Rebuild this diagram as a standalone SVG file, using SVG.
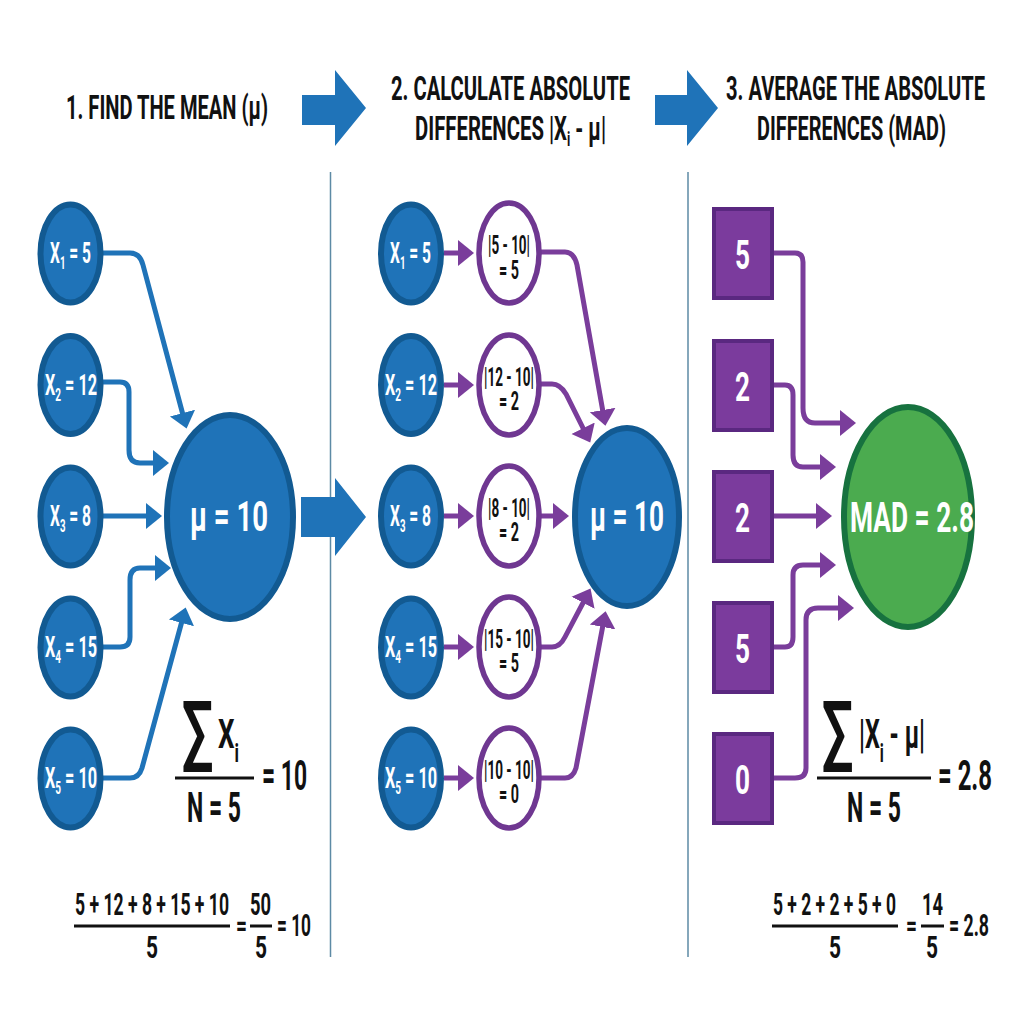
<svg xmlns="http://www.w3.org/2000/svg" width="1024" height="1024" viewBox="0 0 1024 1024">
<style>
text{font-family:Roboto,"Liberation Sans",sans-serif;font-weight:700;fill:#111;}
.w{fill:#fff;}
.blue{fill:#1f73b8;stroke:#125a92;stroke-width:6;}
.pc{fill:#fff;stroke:#6f3791;stroke-width:5.500;}
.sq{fill:#7b3b9d;stroke:#5a2880;stroke-width:4;}
.grn{fill:#4bab4f;stroke:#17723f;stroke-width:6;}
.bl{fill:none;stroke:#1f73b8;stroke-width:5;marker-end:url(#mb);}
.pl{fill:none;stroke:#7a3d9b;stroke-width:5;marker-end:url(#mp);}
.div{stroke:#5d8aa5;stroke-width:1.5;}
.rule{stroke:#111;stroke-width:3;}
.big{fill:#1f73b8;}
</style>
<defs>
<marker id="mb" markerUnits="userSpaceOnUse" markerWidth="18" markerHeight="30" refX="2" refY="15" orient="auto"><path d="M0 2L16 15L0 28Z" fill="#1f73b8"/></marker>
<marker id="mp" markerUnits="userSpaceOnUse" markerWidth="18" markerHeight="30" refX="2" refY="15" orient="auto"><path d="M0 2L16 15L0 28Z" fill="#7a3d9b"/></marker>
</defs>
<rect width="1024" height="1024" fill="#fff"/>
<g id="dividers">
<line class="div" x1="330.5" y1="172" x2="330.5" y2="957"/>
<line class="div" x1="688" y1="172" x2="688" y2="957"/>
</g>
<g id="headers">
<text x="66" y="119" font-size="33" textLength="202" lengthAdjust="spacingAndGlyphs">1. FIND THE MEAN (μ)</text>
<text x="391" y="100" font-size="33" textLength="239" lengthAdjust="spacingAndGlyphs">2. CALCULATE ABSOLUTE</text>
<text x="415" y="140" font-size="33" textLength="191" lengthAdjust="spacingAndGlyphs">DIFFERENCES |X<tspan font-size="20" dy="6">i</tspan><tspan dy="-6"> - μ|</tspan></text>
<text x="726" y="100" font-size="33" textLength="259" lengthAdjust="spacingAndGlyphs">3. AVERAGE THE ABSOLUTE</text>
<text x="757" y="140" font-size="33" textLength="189" lengthAdjust="spacingAndGlyphs">DIFFERENCES (MAD)</text>
</g>
<g id="block-arrows">
<path class="big" d="M302 95H335V70L366 108L335 146V125H302Z"/>
<path class="big" d="M655 95H687V70L718 108L687 146V125H655Z"/>
<path class="big" d="M301 497H335V478L366 517L335 556V537H301Z"/>
</g>
<g id="connectors">
<path class="bl" d="M103 253H130Q140 253 143 265L183 415"/>
<path class="bl" d="M103 382H120Q129 382 129 392V450Q129 463 140 463H155"/>
<path class="bl" d="M103 516H148"/>
<path class="bl" d="M103 647H120Q130 647 130 637V580Q130 568 140 568H157"/>
<path class="bl" d="M103 778H130Q139 778 142 768L182 621"/>
<path class="pl" d="M444 253H460"/>
<path class="pl" d="M444 385H460"/>
<path class="pl" d="M444 516H460"/>
<path class="pl" d="M444 647H460"/>
<path class="pl" d="M444 778H460"/>
<path class="pl" d="M541 252H565Q574 252 577 265L603 412"/>
<path class="pl" d="M541 384H552Q560 384 566 394L584 430"/>
<path class="pl" d="M541 516H555"/>
<path class="pl" d="M541 647H552Q560 647 565 637L584 601"/>
<path class="pl" d="M541 778H565Q573 778 576 768L603 625"/>
<path class="pl" d="M773 253H795Q803 253 803 262V408Q803 423 815 423H842"/>
<path class="pl" d="M773 385H785Q793 385 793 395V455Q793 467 803 467H822"/>
<path class="pl" d="M773 516H818"/>
<path class="pl" d="M773 647H785Q793 647 793 637V575Q793 565 803 565H822"/>
<path class="pl" d="M773 778H795Q806 778 806 768V620Q806 608 818 608H840"/>
</g>
<g id="x1a"><ellipse class="blue" cx="70.500" cy="253.500" rx="30" ry="49"/><text class="w" x="50" y="263" font-size="29" textLength="41" lengthAdjust="spacingAndGlyphs">X<tspan font-size="18" dy="6">1</tspan><tspan dy="-6"> = 5</tspan></text></g>
<g id="x2a"><ellipse class="blue" cx="70.500" cy="385" rx="30" ry="49"/><text class="w" x="45" y="395" font-size="29" textLength="52" lengthAdjust="spacingAndGlyphs">X<tspan font-size="18" dy="6">2</tspan><tspan dy="-6"> = 12</tspan></text></g>
<g id="x3a"><ellipse class="blue" cx="70.500" cy="516.500" rx="30" ry="49"/><text class="w" x="50" y="526" font-size="29" textLength="41" lengthAdjust="spacingAndGlyphs">X<tspan font-size="18" dy="6">3</tspan><tspan dy="-6"> = 8</tspan></text></g>
<g id="x4a"><ellipse class="blue" cx="70.500" cy="647.500" rx="30" ry="49"/><text class="w" x="45" y="657" font-size="29" textLength="52" lengthAdjust="spacingAndGlyphs">X<tspan font-size="18" dy="6">4</tspan><tspan dy="-6"> = 15</tspan></text></g>
<g id="x5a"><ellipse class="blue" cx="70.500" cy="778.500" rx="30" ry="49"/><text class="w" x="45" y="788" font-size="29" textLength="52" lengthAdjust="spacingAndGlyphs">X<tspan font-size="18" dy="6">5</tspan><tspan dy="-6"> = 10</tspan></text></g>
<g id="mean1"><ellipse class="blue" cx="230" cy="517" rx="63" ry="102"/><text class="w" x="190" y="531" font-size="42" textLength="78" lengthAdjust="spacingAndGlyphs">μ = 10</text></g>
<g id="x1b"><ellipse class="blue" cx="411" cy="253.500" rx="30" ry="49"/><text class="w" x="390" y="263" font-size="29" textLength="41" lengthAdjust="spacingAndGlyphs">X<tspan font-size="18" dy="6">1</tspan><tspan dy="-6"> = 5</tspan></text></g>
<g id="x2b"><ellipse class="blue" cx="411" cy="385" rx="30" ry="49"/><text class="w" x="385" y="395" font-size="29" textLength="52" lengthAdjust="spacingAndGlyphs">X<tspan font-size="18" dy="6">2</tspan><tspan dy="-6"> = 12</tspan></text></g>
<g id="x3b"><ellipse class="blue" cx="411" cy="516.500" rx="30" ry="49"/><text class="w" x="390" y="526" font-size="29" textLength="41" lengthAdjust="spacingAndGlyphs">X<tspan font-size="18" dy="6">3</tspan><tspan dy="-6"> = 8</tspan></text></g>
<g id="x4b"><ellipse class="blue" cx="411" cy="647.500" rx="30" ry="49"/><text class="w" x="385" y="657" font-size="29" textLength="52" lengthAdjust="spacingAndGlyphs">X<tspan font-size="18" dy="6">4</tspan><tspan dy="-6"> = 15</tspan></text></g>
<g id="x5b"><ellipse class="blue" cx="411" cy="778.500" rx="30" ry="49"/><text class="w" x="385" y="788" font-size="29" textLength="52" lengthAdjust="spacingAndGlyphs">X<tspan font-size="18" dy="6">5</tspan><tspan dy="-6"> = 10</tspan></text></g>
<g id="d1"><ellipse class="pc" cx="509" cy="253" rx="30" ry="50"/><text x="488" y="254" font-size="25" textLength="42" lengthAdjust="spacingAndGlyphs">|5 - 10|</text><text x="499" y="279" font-size="25" textLength="20" lengthAdjust="spacingAndGlyphs">= 5</text></g>
<g id="d2"><ellipse class="pc" cx="509" cy="385" rx="30" ry="50"/><text x="484" y="386" font-size="25" textLength="50" lengthAdjust="spacingAndGlyphs">|12 - 10|</text><text x="499" y="410" font-size="25" textLength="20" lengthAdjust="spacingAndGlyphs">= 2</text></g>
<g id="d3"><ellipse class="pc" cx="509" cy="516" rx="30" ry="50"/><text x="488" y="517" font-size="25" textLength="42" lengthAdjust="spacingAndGlyphs">|8 - 10|</text><text x="499" y="541" font-size="25" textLength="20" lengthAdjust="spacingAndGlyphs">= 2</text></g>
<g id="d4"><ellipse class="pc" cx="509" cy="647" rx="30" ry="50"/><text x="484" y="648" font-size="25" textLength="50" lengthAdjust="spacingAndGlyphs">|15 - 10|</text><text x="499" y="672" font-size="25" textLength="20" lengthAdjust="spacingAndGlyphs">= 5</text></g>
<g id="d5"><ellipse class="pc" cx="509" cy="778" rx="30" ry="50"/><text x="484" y="779" font-size="25" textLength="50" lengthAdjust="spacingAndGlyphs">|10 - 10|</text><text x="499" y="803" font-size="25" textLength="20" lengthAdjust="spacingAndGlyphs">= 0</text></g>
<g id="mean2"><ellipse class="blue" cx="627" cy="517" rx="52" ry="89"/><text class="w" x="590" y="531" font-size="42" textLength="74" lengthAdjust="spacingAndGlyphs">μ = 10</text></g>
<g id="s1"><rect class="sq" x="714" y="209" width="58" height="89"/><text class="w" x="735" y="269" font-size="40" textLength="15" lengthAdjust="spacingAndGlyphs">5</text></g>
<g id="s2"><rect class="sq" x="714" y="341" width="58" height="89"/><text class="w" x="735" y="401" font-size="40" textLength="15" lengthAdjust="spacingAndGlyphs">2</text></g>
<g id="s3"><rect class="sq" x="714" y="472" width="58" height="89"/><text class="w" x="735" y="532" font-size="40" textLength="15" lengthAdjust="spacingAndGlyphs">2</text></g>
<g id="s4"><rect class="sq" x="714" y="603" width="58" height="89"/><text class="w" x="735" y="663" font-size="40" textLength="15" lengthAdjust="spacingAndGlyphs">5</text></g>
<g id="s5"><rect class="sq" x="714" y="734" width="58" height="89"/><text class="w" x="735" y="794" font-size="40" textLength="15" lengthAdjust="spacingAndGlyphs">0</text></g>
<g id="mad"><ellipse class="grn" cx="908" cy="517" rx="64" ry="110"/><text class="w" x="850" y="532" font-size="42" textLength="124" lengthAdjust="spacingAndGlyphs">MAD = 2.8</text></g>
<g id="formula1">
<text x="182" y="761" font-size="84" textLength="31" lengthAdjust="spacingAndGlyphs" font-family="Liberation Sans" font-weight="400">∑</text>
<text x="218" y="748" font-size="40" textLength="21" lengthAdjust="spacingAndGlyphs">X<tspan font-size="26" dy="14">i</tspan></text>
<line class="rule" x1="175" y1="778" x2="254" y2="778"/>
<text x="187" y="822" font-size="42" textLength="54" lengthAdjust="spacingAndGlyphs">N = 5</text>
<text x="262" y="790" font-size="42" textLength="45" lengthAdjust="spacingAndGlyphs">= 10</text>
<text x="75" y="915" font-size="32" textLength="154" lengthAdjust="spacingAndGlyphs">5 + 12 + 8 + 15 + 10</text>
<line class="rule" x1="74" y1="926" x2="230" y2="926"/>
<text x="146" y="958" font-size="32" textLength="12" lengthAdjust="spacingAndGlyphs">5</text>
<text x="236" y="936" font-size="30" textLength="11" lengthAdjust="spacingAndGlyphs">=</text>
<text x="250" y="915" font-size="32" textLength="21" lengthAdjust="spacingAndGlyphs">50</text>
<line class="rule" x1="250" y1="926" x2="272" y2="926"/>
<text x="255" y="958" font-size="32" textLength="12" lengthAdjust="spacingAndGlyphs">5</text>
<text x="277" y="936" font-size="32" textLength="34" lengthAdjust="spacingAndGlyphs">= 10</text>
</g>
<g id="formula2">
<text x="822" y="761" font-size="84" textLength="31" lengthAdjust="spacingAndGlyphs" font-family="Liberation Sans" font-weight="400">∑</text>
<text x="859" y="748" font-size="40" textLength="66" lengthAdjust="spacingAndGlyphs">|X<tspan font-size="26" dy="14">i</tspan><tspan dy="-14"> - μ|</tspan></text>
<line class="rule" x1="817" y1="778" x2="931" y2="778"/>
<text x="847" y="822" font-size="42" textLength="54" lengthAdjust="spacingAndGlyphs">N = 5</text>
<text x="938" y="790" font-size="42" textLength="54" lengthAdjust="spacingAndGlyphs">= 2.8</text>
<text x="773" y="915" font-size="32" textLength="123" lengthAdjust="spacingAndGlyphs">5 + 2 + 2 + 5 + 0</text>
<line class="rule" x1="772" y1="926" x2="898" y2="926"/>
<text x="829" y="958" font-size="32" textLength="12" lengthAdjust="spacingAndGlyphs">5</text>
<text x="906" y="936" font-size="30" textLength="11" lengthAdjust="spacingAndGlyphs">=</text>
<text x="922" y="915" font-size="32" textLength="21" lengthAdjust="spacingAndGlyphs">14</text>
<line class="rule" x1="921" y1="926" x2="944" y2="926"/>
<text x="926" y="958" font-size="32" textLength="12" lengthAdjust="spacingAndGlyphs">5</text>
<text x="949" y="936" font-size="32" textLength="40" lengthAdjust="spacingAndGlyphs">= 2.8</text>
</g>
</svg>
